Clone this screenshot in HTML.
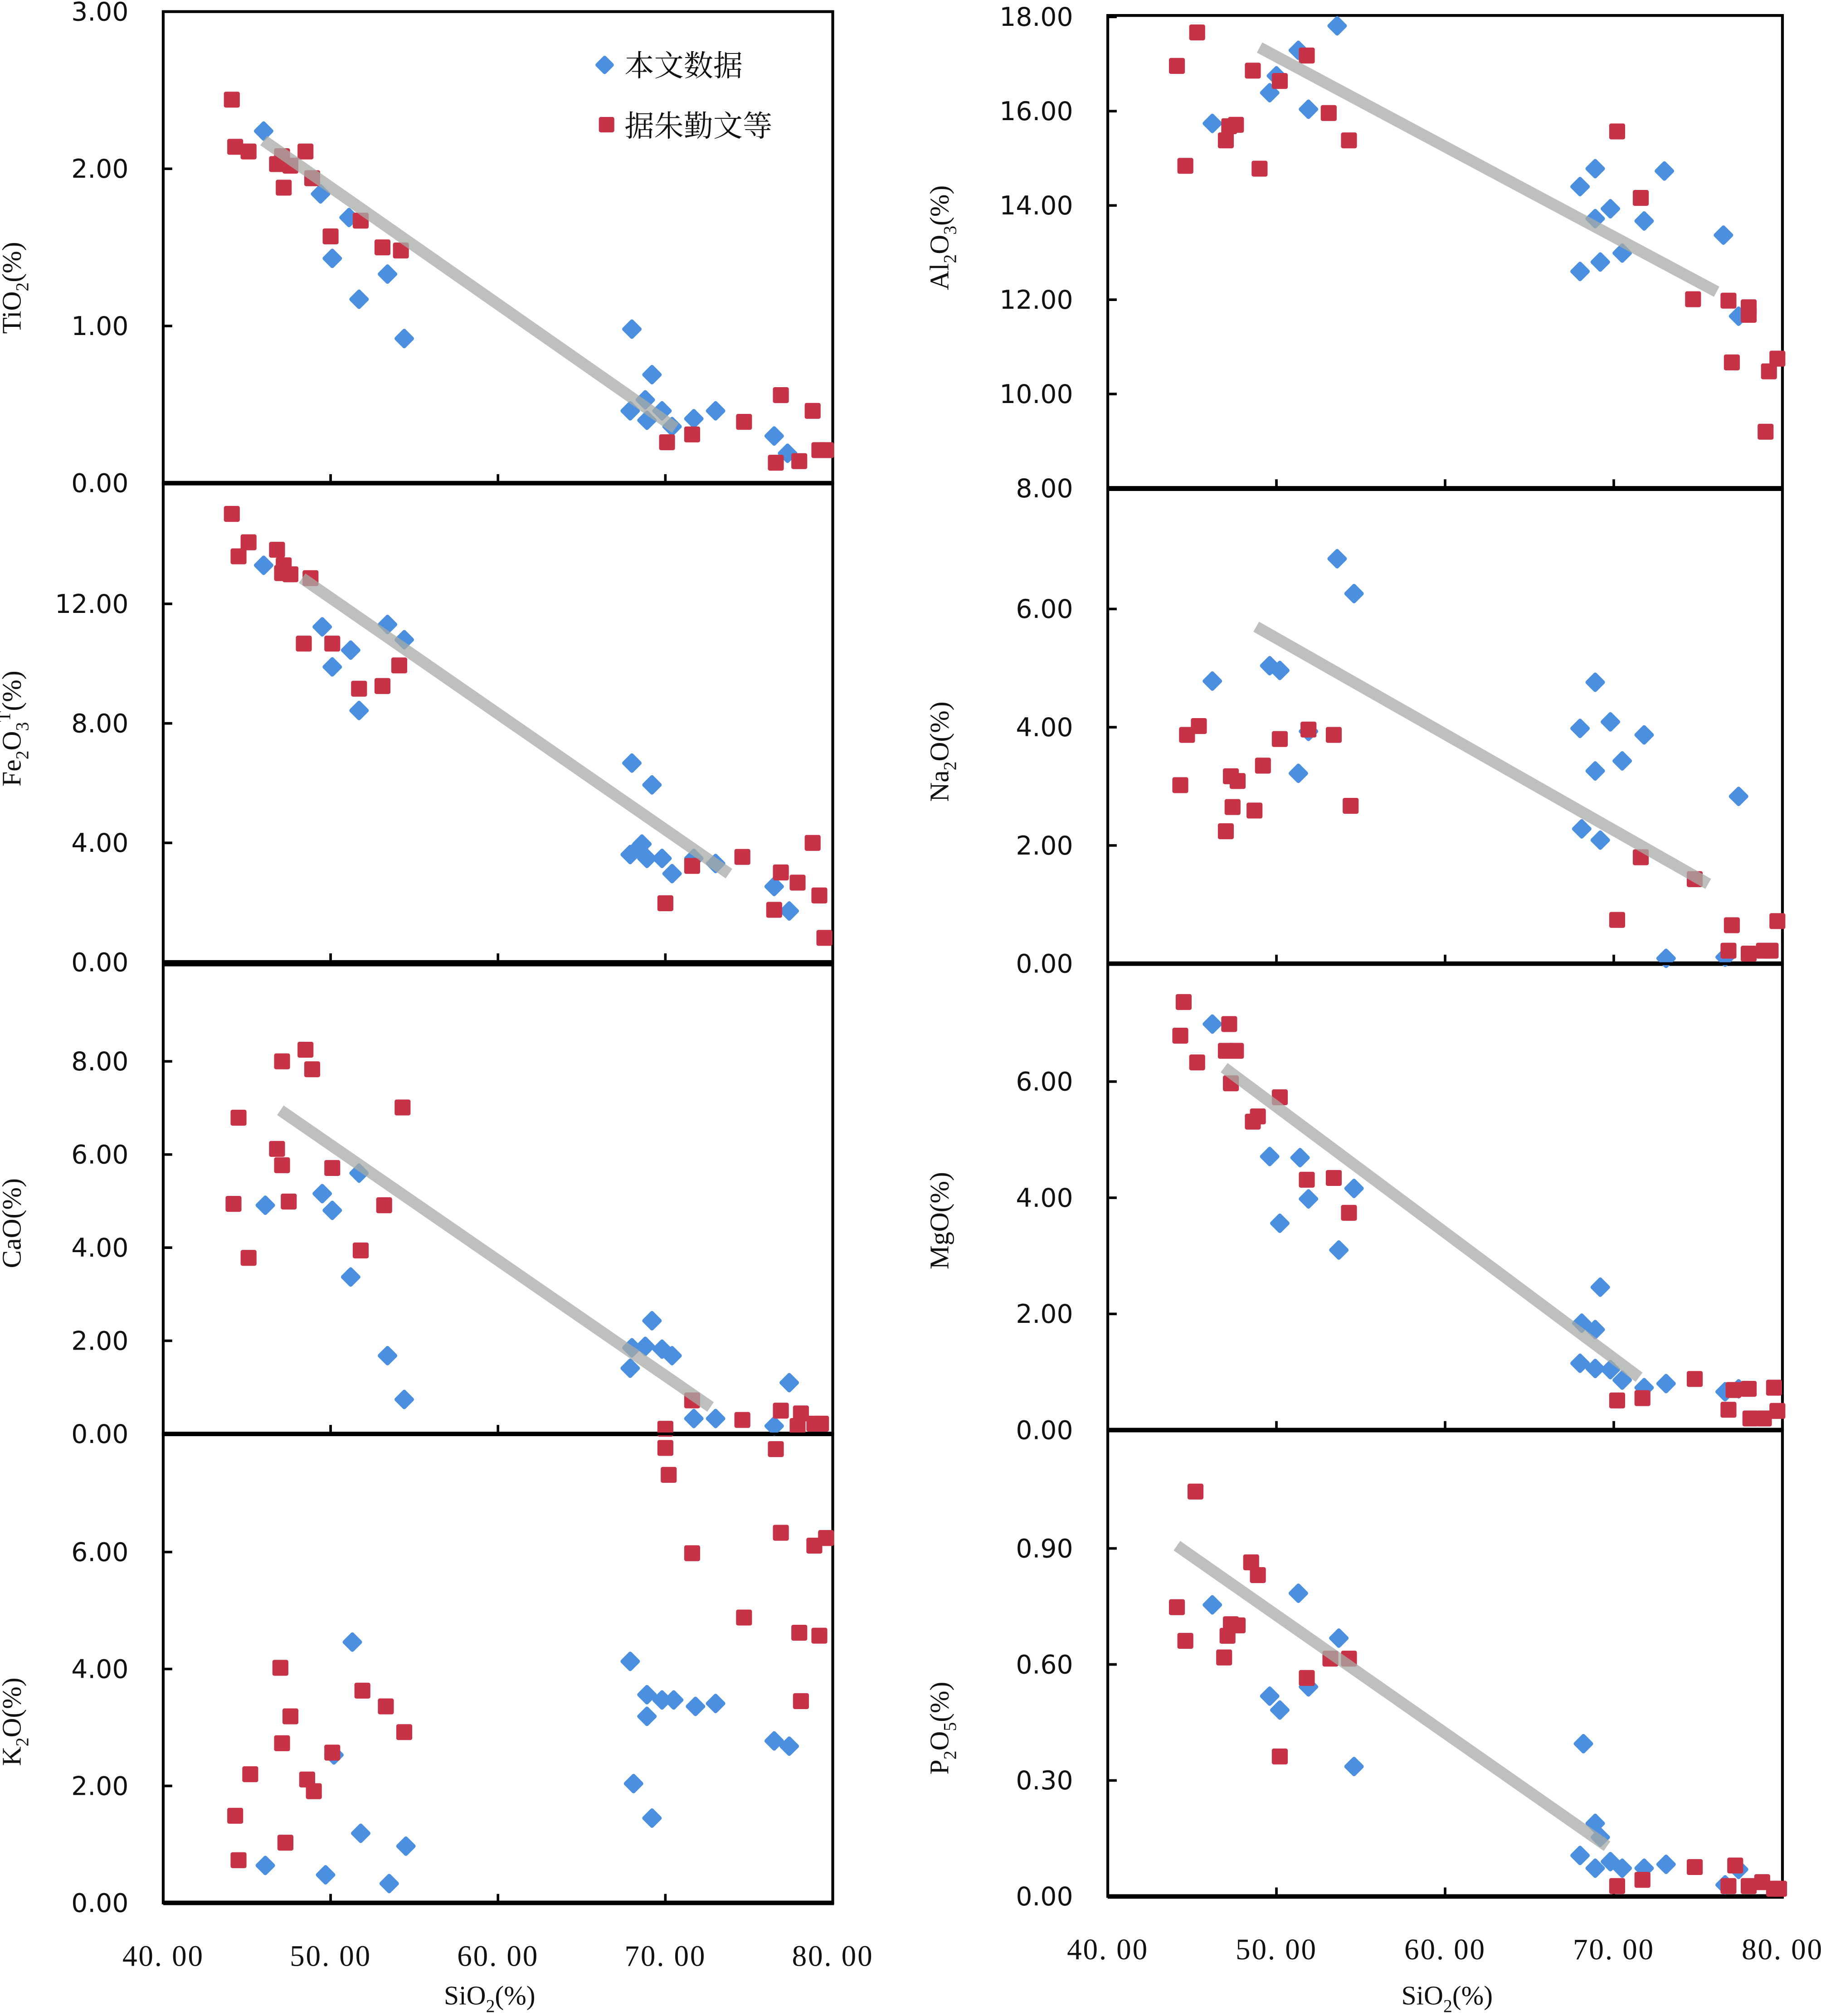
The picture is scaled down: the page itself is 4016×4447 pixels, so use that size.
<!DOCTYPE html>
<html><head><meta charset="utf-8">
<style>
html,body{margin:0;padding:0;background:#fff;}
svg{display:block;}
.tk{font-family:"DejaVu Sans","Liberation Sans",sans-serif;font-size:20px;fill:#111;}
.xt{font-family:"Liberation Serif","Noto Serif CJK SC",serif;font-size:23px;fill:#111;letter-spacing:1px;}
.ti{font-family:"Liberation Serif","Noto Serif CJK SC",serif;font-size:21px;fill:#111;}
.lg{font-family:"Liberation Serif","Noto Serif CJK SC","Noto Sans CJK SC",serif;font-size:23px;fill:#111;}
</style></head>
<body>
<svg id="chart" width="4016" height="4447" viewBox="0 0 1417 1569" xmlns="http://www.w3.org/2000/svg">
</svg>
<script>
// ===== Data arrays (SiO2 %, oxide %) =====
const tio2Blue=[[46.0,2.24],[49.4,1.84],[50.1,1.43],[51.1,1.69],[51.7,1.17],[53.4,1.33],[54.4,0.92],[68.0,0.98],[67.9,0.46],[68.8,0.53],[68.9,0.40],[69.2,0.69],[69.8,0.46],[70.4,0.36],[71.7,0.41],[73.0,0.46],[76.5,0.30],[77.3,0.19]];
const tio2Red=[[44.1,2.44],[44.3,2.14],[45.1,2.11],[46.8,2.03],[47.1,2.08],[47.2,1.88],[47.6,2.02],[48.5,2.11],[48.9,1.94],[50.0,1.57],[51.8,1.67],[53.1,1.50],[54.2,1.48],[70.1,0.26],[71.6,0.31],[74.7,0.39],[76.6,0.13],[76.9,0.56],[78.0,0.14],[78.8,0.46],[79.2,0.21],[79.6,0.21]];
const tio2Trend=[[46.0,2.18],[70.6,0.35]];
const fe2o3Blue=[[46.0,13.29],[49.5,11.23],[50.1,9.89],[51.2,10.45],[51.7,8.43],[53.4,11.31],[54.4,10.80],[67.9,3.61],[68.0,6.67],[68.4,3.83],[68.6,3.96],[68.9,3.48],[69.2,5.94],[69.8,3.48],[70.4,2.97],[71.7,3.48],[73.0,3.31],[76.5,2.54],[77.4,1.72]];
const fe2o3Red=[[44.1,15.01],[44.5,13.59],[45.1,14.06],[46.8,13.81],[47.1,13.03],[47.2,13.29],[47.6,12.99],[48.4,10.67],[48.8,12.86],[50.1,10.67],[51.7,9.16],[53.1,9.25],[54.1,9.94],[70.0,1.98],[71.6,3.23],[74.6,3.53],[76.5,1.76],[76.9,3.01],[77.9,2.67],[78.8,4.00],[79.2,2.24],[79.5,0.82]];
const fe2o3Trend=[[48.3,12.86],[73.8,2.97]];
const caoBlue=[[46.1,4.91],[49.5,5.16],[50.1,4.80],[51.2,3.37],[51.7,5.60],[53.4,1.68],[54.4,0.74],[67.9,1.41],[68.0,1.85],[68.8,1.88],[69.2,2.43],[69.8,1.82],[70.4,1.68],[71.7,0.33],[73.0,0.33],[76.5,0.17],[77.4,1.10]];
const caoRed=[[44.2,4.94],[44.5,6.79],[45.1,3.78],[46.8,6.12],[47.1,8.0],[47.1,5.77],[47.5,4.99],[48.5,8.25],[48.9,7.83],[50.1,5.71],[51.8,3.94],[53.2,4.91],[54.3,7.01],[70.0,0.11],[71.6,0.72],[74.6,0.30],[76.9,0.50],[77.9,0.17],[78.1,0.44],[78.9,0.22],[79.3,0.22]];
const caoTrend=[[47.0,6.95],[72.7,0.58]];
const k2oBlue=[[46.1,0.64],[49.7,0.48],[50.2,2.53],[51.3,4.46],[51.8,1.19],[53.5,0.33],[54.5,0.97],[67.9,4.13],[68.1,2.04],[68.9,3.56],[68.9,3.19],[69.2,1.45],[69.8,3.47],[70.5,3.47],[71.8,3.36],[73.0,3.41],[76.5,2.77],[77.4,2.68]];
const k2oRed=[[44.3,1.49],[44.5,0.73],[45.2,2.20],[47.0,4.02],[47.1,2.73],[47.3,1.03],[47.6,3.19],[48.6,2.11],[49.0,1.91],[50.1,2.57],[51.9,3.63],[53.3,3.36],[54.4,2.92],[70.0,7.78],[70.2,7.32],[71.6,5.98],[74.7,4.88],[76.6,7.76],[76.9,6.33],[78.0,4.62],[78.1,3.45],[78.9,6.11],[79.2,4.57],[79.6,6.24]];
const al2o3Blue=[[46.2,15.74],[49.6,16.39],[50.0,16.75],[51.3,17.29],[51.9,16.04],[53.6,17.81],[68.0,12.60],[68.0,14.40],[68.9,14.78],[68.9,13.72],[69.2,12.80],[69.8,13.93],[70.5,12.99],[71.8,13.67],[73.0,14.73],[76.5,13.37],[77.4,11.65]];
const al2o3Red=[[44.1,16.96],[44.6,14.84],[45.3,17.67],[47.0,15.38],[47.2,15.68],[47.6,15.71],[48.6,16.86],[49.0,14.78],[50.2,16.64],[51.8,17.18],[53.1,15.96],[54.3,15.38],[70.2,15.57],[71.6,14.16],[74.7,12.01],[76.8,11.98],[77.0,10.67],[78.0,11.84],[78.0,11.68],[79.2,10.48],[79.7,10.75],[79.0,9.20]];
const al2o3Trend=[[49.0,17.35],[76.1,12.17]];
const na2oBlue=[[46.2,4.78],[49.6,5.04],[50.2,4.96],[51.3,3.22],[51.9,3.93],[53.6,6.85],[54.6,6.26],[68.0,3.98],[68.1,2.28],[68.9,4.76],[68.9,3.26],[69.2,2.09],[69.8,4.09],[70.5,3.43],[71.8,3.87],[73.1,0.09],[76.6,0.11],[77.4,2.83]];
const na2oRed=[[44.3,3.02],[44.7,3.87],[45.4,4.02],[47.0,2.24],[47.3,3.17],[47.4,2.65],[47.7,3.09],[48.7,2.59],[49.2,3.35],[50.2,3.80],[51.9,3.96],[53.4,3.87],[54.4,2.67],[70.2,0.74],[71.6,1.80],[74.8,1.43],[76.8,0.22],[77.0,0.65],[78.0,0.17],[78.9,0.22],[79.3,0.22],[79.7,0.72]];
const na2oTrend=[[48.8,5.70],[75.6,1.35]];
const mgoBlue=[[46.2,6.99],[49.6,4.71],[50.2,3.56],[51.4,4.69],[51.9,3.98],[53.7,3.10],[54.6,4.16],[68.0,1.15],[68.1,1.84],[68.9,1.06],[68.9,1.73],[69.2,2.46],[69.8,1.04],[70.5,0.86],[71.8,0.73],[73.1,0.80],[76.6,0.66],[77.4,0.71]];
const mgoRed=[[44.3,6.79],[44.5,7.37],[45.3,6.33],[47.0,6.53],[47.2,6.99],[47.3,5.97],[47.6,6.53],[48.6,5.31],[48.9,5.40],[50.2,5.73],[51.8,4.31],[53.4,4.34],[54.3,3.74],[70.2,0.51],[71.7,0.55],[74.8,0.88],[76.8,0.35],[77.1,0.69],[78.0,0.71],[78.1,0.20],[78.9,0.20],[79.5,0.73],[79.7,0.33]];
const mgoTrend=[[46.9,6.24],[71.5,0.91]];
const p2o5Blue=[[46.2,0.754],[49.6,0.518],[50.2,0.482],[51.3,0.784],[51.9,0.542],[53.7,0.668],[54.6,0.336],[68.0,0.106],[68.2,0.395],[68.9,0.073],[68.9,0.189],[69.2,0.153],[69.8,0.090],[70.5,0.073],[71.8,0.073],[73.1,0.083],[76.6,0.030],[77.4,0.070]];
const p2o5Red=[[44.1,0.748],[44.6,0.661],[45.2,1.047],[46.9,0.618],[47.1,0.674],[47.3,0.704],[47.7,0.701],[48.5,0.864],[48.9,0.831],[50.2,0.362],[51.8,0.565],[53.2,0.615],[54.3,0.615],[70.2,0.027],[71.7,0.043],[74.8,0.076],[76.8,0.027],[77.2,0.080],[78.0,0.027],[78.8,0.037],[79.5,0.020],[79.8,0.020]];
const p2o5Trend=[[44.1,0.907],[69.6,0.130]];
const xTickLabels=["40. 00","50. 00","60. 00","70. 00","80. 00"];
const xTickValues=[40,50,60,70,80];
const tio2Ticks=[0,1,2,3];
const fe2o3Ticks=[0,4,8,12];
const caoTicks=[0,2,4,6,8];
const k2oTicks=[0,2,4,6];
const al2o3Ticks=[8,10,12,14,16,18];
const na2oTicks=[0,2,4,6];
const mgoTicks=[0,2,4,6];
const p2o5Ticks=[0,0.3,0.6,0.9];

const NS="http://www.w3.org/2000/svg";
const svg=document.getElementById('chart');
function mk(tag,attrs,parent){const e=document.createElementNS(NS,tag);for(const k in attrs)e.setAttribute(k,attrs[k]);(parent||svg).appendChild(e);return e;}

// title parts: [text, dy, fontSize]
const panels=[
 {id:'tio2',x0:127,x1:648,top:9,bot:376,ymin:0,ymax:3,ticks:tio2Ticks,blue:tio2Blue,red:tio2Red,trend:tio2Trend,title:[['TiO',0,21],['2',6,14],['(%)',-6,21]],tx:16,ty:224},
 {id:'fe2o3',x0:127,x1:648,top:376,bot:749,ymin:0,ymax:16.04,ticks:fe2o3Ticks,blue:fe2o3Blue,red:fe2o3Red,trend:fe2o3Trend,title:[['Fe',0,21],['2',6,14],['O',-6,21],['3',6,14],['T',-14,14],['(%)',8,21]],tx:16,ty:567},
 {id:'cao',x0:127,x1:648,top:751,bot:1116,ymin:0,ymax:10.07,ticks:caoTicks,blue:caoBlue,red:caoRed,trend:caoTrend,title:[['CaO(%)',0,21]],tx:16,ty:952},
 {id:'k2o',x0:127,x1:648,top:1116,bot:1481,ymin:0,ymax:8.02,ticks:k2oTicks,blue:k2oBlue,red:k2oRed,trend:null,title:[['K',0,21],['2',6,14],['O(%)',-6,21]],tx:16,ty:1340},
 {id:'al2o3',x0:862,x1:1387,top:12,bot:380,ymin:8,ymax:18.03,ticks:al2o3Ticks,blue:al2o3Blue,red:al2o3Red,trend:al2o3Trend,title:[['Al',0,21],['2',6,14],['O',-6,21],['3',6,14],['(%)',-6,21]],tx:738,ty:185},
 {id:'na2o',x0:862,x1:1387,top:381,bot:750,ymin:0,ymax:8.02,ticks:na2oTicks,blue:na2oBlue,red:na2oRed,trend:na2oTrend,title:[['Na',0,21],['2',6,14],['O(%)',-6,21]],tx:738,ty:585},
 {id:'mgo',x0:862,x1:1387,top:750,bot:1113,ymin:0,ymax:8.03,ticks:mgoTicks,blue:mgoBlue,red:mgoRed,trend:mgoTrend,title:[['MgO(%)',0,21]],tx:738,ty:950},
 {id:'p2o5',x0:862,x1:1387,top:1113,bot:1476,ymin:0,ymax:1.206,ticks:p2o5Ticks,blue:p2o5Blue,red:p2o5Red,trend:p2o5Trend,title:[['P',0,21],['2',6,14],['O',-6,21],['5',6,14],['(%)',-6,21]],tx:738,ty:1345}
];

panels.forEach(p=>{
 const g=mk('g',{});
 
 
 const sx=v=>p.x0+(v-40)/40*(p.x1-p.x0);
 const sy=v=>p.bot-(v-p.ymin)/(p.ymax-p.ymin)*(p.bot-p.top);
 const fr=mk('rect',{x:p.x0,y:p.top,width:p.x1-p.x0,height:p.bot-p.top,fill:'none',stroke:'#000','stroke-width':2.2},g);
 
 
 const bl=mk('line',{x1:p.x0,x2:p.x1+1,y1:p.bot,y2:p.bot,stroke:'#000','stroke-width':3.5},g);
 
 
 [50,60,70].forEach(v=>{
  const t=mk('line',{x1:sx(v),x2:sx(v),y1:p.bot,y2:p.bot-7,stroke:'#000','stroke-width':2},g);
  
  
 });
 p.ticks.forEach(v=>{
  const t=mk('line',{x1:p.x0,x2:p.x0+7,y1:sy(v),y2:sy(v),stroke:'#000','stroke-width':2},g);
  
  
  const tl=mk('text',{x:p.x0-27,y:sy(v)+7,'text-anchor':'end',class:'tk'},g);
  tl.textContent=v.toFixed(2);
  
  
 });
 const tt=mk('text',{x:0,y:0,class:'ti','text-anchor':'middle',transform:`translate(${p.tx},${p.ty}) rotate(-90)`},g);
 
 
 p.title.forEach(s=>{
  const ts=mk('tspan',{dy:s[1],'font-size':s[2]},tt);
  ts.textContent=s[0];
 });
 p.blue.forEach(d=>{
  const m=mk('rect',{x:sx(d[0])-5.8,y:sy(d[1])-5.8,width:11.6,height:11.6,rx:1.5,fill:'#4a8fe0',transform:`rotate(45 ${sx(d[0])} ${sy(d[1])})`},g);
  
  
 });
 p.red.forEach(d=>{
  const m=mk('rect',{x:sx(d[0])-6.2,y:sy(d[1])-6.2,width:12.4,height:12.4,rx:1.5,fill:'#c83246'},g);
  
  
 });
 if(p.trend){
  const l=mk('line',{x1:sx(p.trend[0][0]),y1:sy(p.trend[0][1]),x2:sx(p.trend[1][0]),y2:sy(p.trend[1][1]),stroke:'#a8aca6','stroke-width':9,opacity:0.75},g);
  
  
 }
});

[[127,648,1522,381],[862,1387,1517,1126]].forEach(c=>{
 xTickValues.forEach((v,i)=>{
  const x=c[0]+(v-40)/40*(c[1]-c[0]);
  const t=mk('text',{x:x,y:c[2]+8,'text-anchor':'middle',class:'xt'});
  t.textContent=xTickLabels[i];
  
  
 });
 const tt=mk('text',{x:c[3],y:1560,'text-anchor':'middle',class:'ti'});
 
 
 const a=mk('tspan',{},tt);a.textContent='SiO';
 const b=mk('tspan',{dy:6,'font-size':14},tt);b.textContent='2';
 const d=mk('tspan',{dy:-6},tt);d.textContent='(%)';
});

const lg=mk('g',{});


const ld=mk('rect',{x:465,y:45,width:11,height:11,rx:1.5,fill:'#4a8fe0',transform:'rotate(45 470.5 50.5)'},lg);


const lt1=mk('text',{x:486,y:59,class:'lg'},lg);lt1.textContent='本文数据';


const lr=mk('rect',{x:466,y:91,width:12,height:12,rx:1.5,fill:'#c83246'},lg);


const lt2=mk('text',{x:486,y:106,class:'lg'},lg);lt2.textContent='据朱勤文等';


</script>
</body></html>
